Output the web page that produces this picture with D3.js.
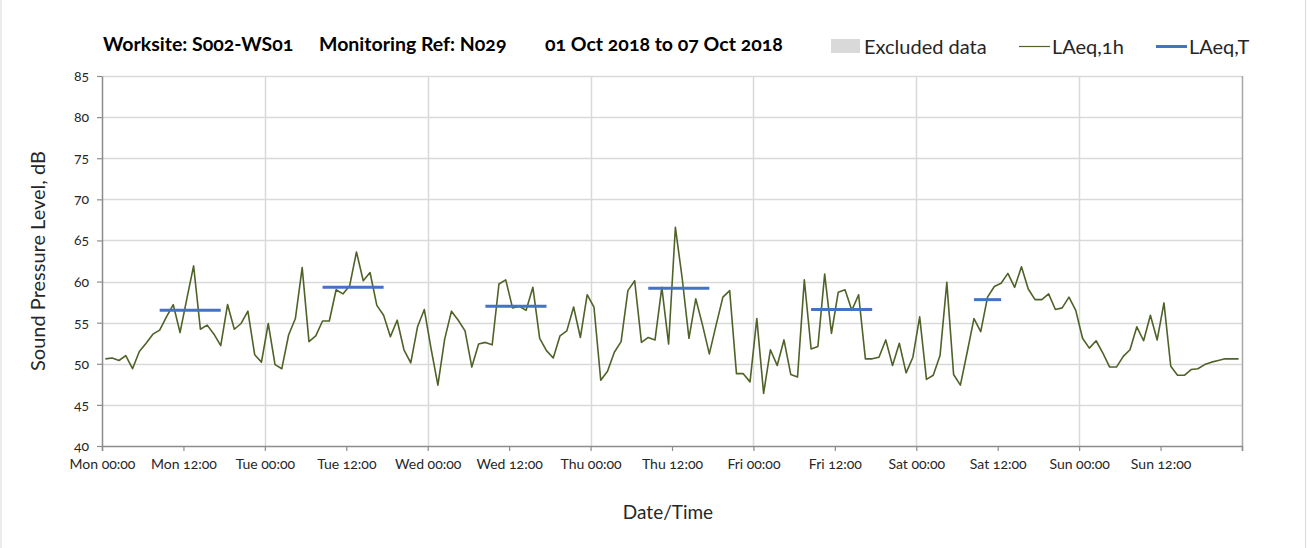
<!DOCTYPE html>
<html>
<head>
<meta charset="utf-8">
<script src="https://cdn.jsdelivr.net/npm/d3@7"></script>
<style>
  body { margin: 0; background: #fff; }
  svg { display: block; font-family: Lato, "Open Sans", sans-serif; font-variant-numeric: oldstyle-nums; }
</style>
</head>
<body>
<svg id="chart" width="1309" height="548"></svg>
<script>
// hourly LAeq,1h values, Mon 00:00 .. Sun 23:00
const hourlyLevels = [
  50.6, 50.7, 50.4, 51.0, 49.4, 51.5, 52.5, 53.6, 54.1, 55.7, 57.2, 53.8,
  57.9, 61.9, 54.2, 54.7, 53.6, 52.2, 57.2, 54.2, 54.9, 56.4, 51.1, 50.2,
  54.9, 49.9, 49.4, 53.5, 55.5, 61.7, 52.7, 53.4, 55.2, 55.2, 59.0, 58.5,
  59.5, 63.6, 60.1, 61.1, 57.1, 55.9, 53.3, 55.3, 51.7, 50.1, 54.5, 56.6,
  51.8, 47.4, 53.0, 56.4, 55.3, 54.0, 49.6, 52.4, 52.6, 52.3, 59.7, 60.2,
  56.8, 57.0, 56.5, 59.3, 53.1, 51.6, 50.7, 53.4, 54.0, 56.9, 53.2, 58.4,
  56.9, 48.0, 49.1, 51.4, 52.7, 58.9, 60.1, 52.6, 53.2, 52.9, 59.3, 52.4,
  66.6, 60.4, 53.1, 57.9, 54.7, 51.2, 54.7, 58.1, 58.9, 48.8, 48.8, 47.8,
  55.5, 46.4, 51.7, 49.8, 52.9, 48.7, 48.4, 60.2, 51.8, 52.1, 60.9, 53.7,
  58.7, 59.0, 56.5, 58.4, 50.6, 50.6, 50.8, 52.9, 49.8, 52.5, 48.9, 50.8,
  55.7, 48.1, 48.6, 51.0, 59.9, 48.7, 47.4, 51.4, 55.5, 53.9, 58.1, 59.4,
  59.8, 61.0, 59.3, 61.8, 59.1, 57.8, 57.8, 58.5, 56.6, 56.8, 58.1, 56.5,
  53.1, 51.9, 52.8, 51.3, 49.6, 49.6, 50.9, 51.7, 54.5, 52.8, 55.9, 52.9,
  57.4, 49.7, 48.6, 48.6, 49.3, 49.4, 49.9, 50.2, 50.4, 50.6, 50.6, 50.6
];

// LAeq,T per day: hour range and level
const periodDays = ["Mon", "Tue", "Wed", "Thu", "Fri", "Sat"];
const periodStartHour = [8, 8, 8, 8, 8, 8];
const periodEndHour = [17, 17, 17, 17, 17, 12];
const periodLevels = [56.5, 59.3, 57.0, 59.2, 56.6, 57.8];

const dayNames = ["Mon", "Tue", "Wed", "Thu", "Fri", "Sat", "Sun"];
const yTicks = [40, 45, 50, 55, 60, 65, 70, 75, 80, 85];

const svg = d3.select("#chart");
const plotLeft = 102, plotRight = 1242, plotTop = 76, plotBottom = 446;

const x = d3.scaleLinear().domain([0, 168]).range([plotLeft, plotRight]);
const y = d3.scaleLinear().domain([40, 85]).range([plotBottom, plotTop]);

// outer chart border
svg.append("line").attr("x1", 1).attr("x2", 1).attr("y1", 0).attr("y2", 548).attr("stroke", "#d9d9d9");
svg.append("line").attr("x1", 1305.5).attr("x2", 1305.5).attr("y1", 0).attr("y2", 548).attr("stroke", "#d9d9d9");

// gridlines
svg.append("g")
  .selectAll("line")
  .data(yTicks.filter((v) => v > 40))
  .join("line")
  .attr("x1", plotLeft).attr("x2", plotRight)
  .attr("y1", (v) => Math.round(y(v)) + 0.5).attr("y2", (v) => Math.round(y(v)) + 0.5)
  .attr("stroke", "#d9d9d9").attr("stroke-width", 1.5);

svg.append("g")
  .selectAll("line")
  .data(d3.range(24, 168, 24))
  .join("line")
  .attr("x1", (h) => Math.round(x(h)) + 0.5).attr("x2", (h) => Math.round(x(h)) + 0.5)
  .attr("y1", plotTop).attr("y2", plotBottom)
  .attr("stroke", "#d9d9d9").attr("stroke-width", 1.5);

svg.append("line")
  .attr("x1", plotRight + 0.5).attr("x2", plotRight + 0.5).attr("y1", plotTop).attr("y2", plotBottom)
  .attr("stroke", "#a6a6a6").attr("stroke-width", 1.5);

// axes
const xAxis = d3.axisBottom(x)
  .tickValues(d3.range(0, 169, 12))
  .tickSize(5)
  .tickFormat((h) => (h >= 168 ? "" : `${dayNames[Math.floor(h / 24)]} ${h % 24 === 0 ? "00" : "12"}:00`));

const xg = svg.append("g").attr("transform", `translate(0,${plotBottom})`).call(xAxis);
xg.select(".domain").attr("stroke", "#8c8c8c").attr("stroke-width", 1.5);
xg.selectAll(".tick line").attr("stroke", "#8c8c8c").attr("stroke-width", 1.2);
xg.selectAll(".tick text").attr("dy", "1.05em").attr("font-size", 14).attr("fill", "#262626").attr("font-family", "Lato, sans-serif");

const yAxis = d3.axisLeft(y).tickValues(yTicks).tickSize(5).tickSizeOuter(0);
const yg = svg.append("g").attr("transform", `translate(${plotLeft},0)`).call(yAxis);
yg.select(".domain").attr("stroke", "#8c8c8c").attr("stroke-width", 1.5);
yg.selectAll(".tick line").attr("stroke", "#8c8c8c").attr("stroke-width", 1.2);
yg.selectAll(".tick text").attr("x", -13).attr("font-size", 14).attr("fill", "#262626").attr("font-family", "Lato, sans-serif");

// LAeq,1h line
const line = d3.line()
  .x((d, i) => x(i + 0.5))
  .y((d) => y(d));

svg.append("path")
  .datum(hourlyLevels)
  .attr("d", line)
  .attr("fill", "none")
  .attr("stroke", "#4f6228")
  .attr("stroke-width", 1.6)
  .attr("stroke-linejoin", "round");

// LAeq,T segments
svg.append("g")
  .selectAll("line")
  .data(periodDays.map((day, i) => ({ day, start: i * 24 + periodStartHour[i], end: i * 24 + periodEndHour[i], level: periodLevels[i] })))
  .join("line")
  .attr("x1", (d) => x(d.start + 0.5))
  .attr("x2", (d) => x(d.end + 0.5))
  .attr("y1", (d) => y(d.level))
  .attr("y2", (d) => y(d.level))
  .attr("stroke", "#4472c4")
  .attr("stroke-width", 3);

// title
const title = svg.append("g").attr("font-weight", 700).attr("font-size", 19.5).attr("fill", "#000");
title.append("text").attr("x", 103).attr("y", 51).text("Worksite: S002-WS01");
title.append("text").attr("x", 319).attr("y", 51).text("Monitoring Ref: N029");
title.append("text").attr("x", 545).attr("y", 51).text("01 Oct 2018 to 07 Oct 2018");

// legend
const legend = svg.append("g").attr("font-size", 20).attr("fill", "#262626");
legend.append("rect").attr("x", 831).attr("y", 39).attr("width", 29).attr("height", 14).attr("fill", "#d9d9d9");
legend.append("text").attr("x", 864).attr("y", 54).text("Excluded data");
legend.append("line").attr("x1", 1019).attr("x2", 1050).attr("y1", 46.5).attr("y2", 46.5).attr("stroke", "#4f6228").attr("stroke-width", 1.2);
legend.append("text").attr("x", 1052).attr("y", 54).text("LAeq,1h");
legend.append("line").attr("x1", 1156).attr("x2", 1187).attr("y1", 46.5).attr("y2", 46.5).attr("stroke", "#4472c4").attr("stroke-width", 3);
legend.append("text").attr("x", 1189).attr("y", 54).text("LAeq,T");

// axis titles
svg.append("text")
  .attr("transform", `translate(45,${(plotTop + plotBottom) / 2}) rotate(-90)`)
  .attr("text-anchor", "middle")
  .attr("font-size", 20)
  .attr("fill", "#262626")
  .text("Sound Pressure Level, dB");

svg.append("text")
  .attr("x", 668)
  .attr("y", 519)
  .attr("text-anchor", "middle")
  .attr("font-size", 19)
  .attr("fill", "#262626")
  .text("Date/Time");
</script>
</body>
</html>
